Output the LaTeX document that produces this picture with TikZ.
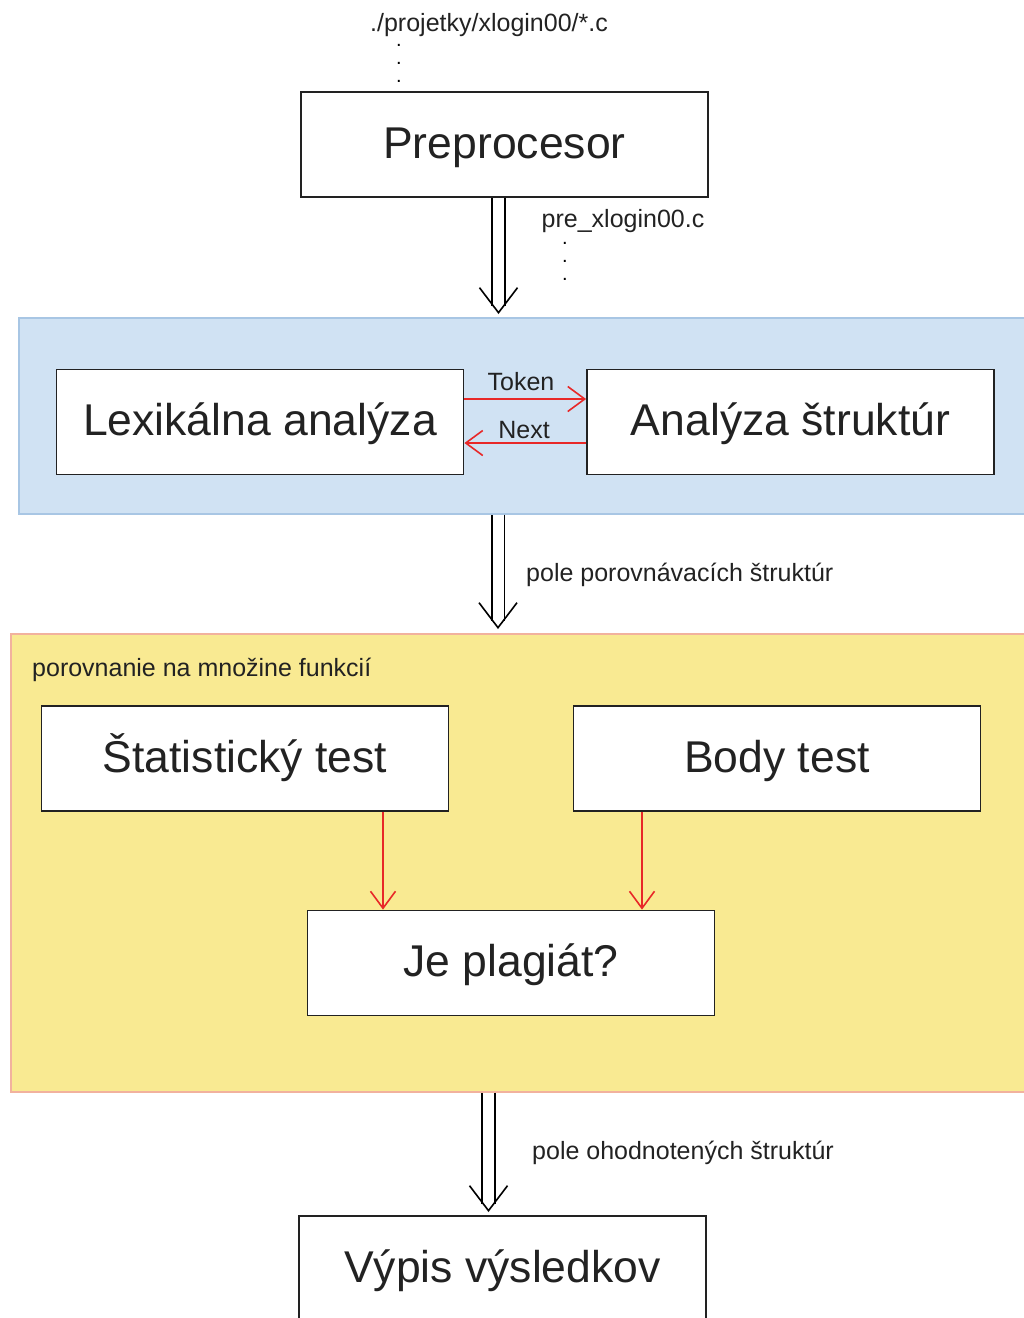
\documentclass[tikz,border=0pt]{standalone}
\usepackage{fontspec}
\setmainfont{Liberation Sans}
\usepackage{tikz}
\usetikzlibrary{arrows.meta}

\definecolor{lexblue}{RGB}{208,226,243}
\definecolor{lexblueline}{RGB}{168,198,228}
\definecolor{cmpyellow}{RGB}{249,234,146}
\definecolor{cmpline}{RGB}{242,178,158}
\definecolor{arrred}{RGB}{232,40,40}
\definecolor{boxline}{RGB}{34,34,34}

\tikzset{
  block/.style={draw=boxline, line width=1.8pt, fill=white, minimum width=407pt,
    minimum height=105pt, inner sep=0pt, text=boxline, text height=34pt, text depth=7pt,
    font=\fontsize{44.5}{50}\selectfont},
  lbl/.style={inner sep=0pt, text=boxline, font=\fontsize{25}{28}\selectfont},
  dotlbl/.style={inner sep=0pt, font=\fontsize{20}{20}\selectfont},
  area/.style={line width=1.5pt, anchor=north west, inner sep=0pt},
  dblline/.style={draw=black, double=white, double distance=11pt, line width=1.6pt},
  dbltip/.style={line width=1.6pt, -{Straight Barb[length=25pt,width=38pt]}},
  redarr/.style={draw=arrred, line width=1.6pt, -{Straight Barb[length=17pt,width=25pt]}},
}

\begin{document}
\begin{tikzpicture}[x=1pt,y=-1pt]
\useasboundingbox (0,0) rectangle (1024,1318);
\clip (0,0) rectangle (1024,1318);
\begin{scope}

    \node[lbl] (srclbl) at (489,25) {./projetky/xlogin00/*.c};
    \foreach \i/\y in {1/45,2/63,3/81}
        \node[dotlbl] (srcdot\i) at (399,\y) {.};

    \node[block] (pre) at (504.5,144.5) {Preprocesor};
    \node[lbl] (prelbl) at (623,221.5) {pre\_xlogin00.c};
    \foreach \i/\y in {1/243,2/261,3/279}
        \node[dotlbl] (predot\i) at (565,\y) {.};

    \node[area, fill=lexblue, draw=lexblueline, minimum width=1040pt, minimum height=196pt] (lexarea) at (18,317) {};
    \node[block] (lex) at (260,422) {Lexikálna analýza};
    \node[block] (struct) at (790.5,422) {Analýza štruktúr};

    \draw[redarr] ([yshift=23pt]lex.east) -- ([yshift=23pt]struct.west);
    \node[lbl] (tokenlbl) at (521,381.5) {Token};
    \draw[redarr] ([yshift=-21pt]struct.west) -- ([yshift=-21pt]lex.east);
    \node[lbl] (nextlbl) at (524,430.5) {Next};

    \coordinate (tip1) at (498.5,314);
    \draw[dblline] (tip1 |- pre.south) -- ([yshift=8pt]tip1);
    \draw[dbltip] (tip1) ++(0,-1) -- (tip1);

    \node[area, fill=cmpyellow, draw=cmpline, minimum width=1040pt, minimum height=458pt] (cmparea) at (10,633) {};
    \node[lbl, anchor=west] (cmplbl) at (32,669.5) {porovnanie na množine funkcií};

    \coordinate (tip2) at (498,629);
    \draw[dblline] (tip2 |- lexarea.south) -- ([yshift=8pt]tip2);
    \draw[dbltip] (tip2) ++(0,-1) -- (tip2);
    \node[lbl, anchor=west] (fieldlbl) at (526,574.5) {pole porovnávacích štruktúr};

    \node[block] (stat) at (245,758.5) {Štatistický test};
    \node[block] (body) at (777,758.5) {Body test};
    \node[block] (plag) at (511,963) {Je plagiát?};

    \coordinate (statout) at (383,812);
    \coordinate (bodyout) at (642,812);
    \draw[redarr] (statout |- stat.south) -- (statout |- plag.north);
    \draw[redarr] (bodyout |- body.south) -- (bodyout |- plag.north);

    \coordinate (tip3) at (488.5,1212);
    \draw[dblline] (tip3 |- cmparea.south) -- ([yshift=8pt]tip3);
    \draw[dbltip] (tip3) ++(0,-1) -- (tip3);
    \node[lbl, anchor=west] (evallbl) at (532,1152.5) {pole ohodnotených štruktúr};

    \node[block] (out) at (502.5,1268.5) {Výpis výsledkov};

\end{scope}
\end{tikzpicture}
\end{document}
